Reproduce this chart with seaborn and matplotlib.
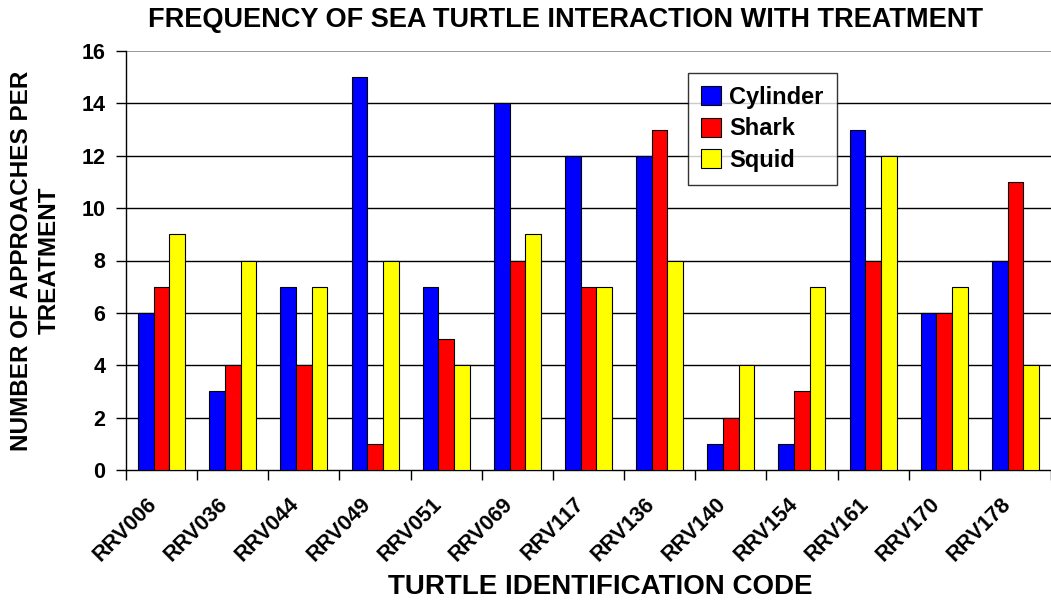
import pandas as pd
import matplotlib.pyplot as plt
import seaborn as sns
from matplotlib.ticker import FixedLocator
from matplotlib.transforms import ScaledTranslation

turtles = ["RRV006", "RRV036", "RRV044", "RRV049", "RRV051", "RRV069", "RRV117",
           "RRV136", "RRV140", "RRV154", "RRV161", "RRV170", "RRV178"]
cylinder = [6, 3, 7, 15, 7, 14, 12, 12, 1, 1, 13, 6, 8]
shark = [7, 4, 4, 1, 5, 8, 7, 13, 2, 3, 8, 6, 11]
squid = [9, 8, 7, 8, 4, 9, 7, 8, 4, 7, 12, 7, 4]
treatments = ["Cylinder", "Shark", "Squid"]

df = pd.DataFrame({
    "turtle": turtles * 3,
    "treatment": [t for t in treatments for _ in turtles],
    "count": cylinder + shark + squid,
})

sns.set_style("white")
plt.rcParams['font.family'] = ['Liberation Sans', 'DejaVu Sans']
plt.rcParams['font.weight'] = 'bold'
plt.rcParams['text.color'] = 'black'
plt.rcParams['axes.labelcolor'] = 'black'
plt.rcParams['xtick.color'] = 'black'
plt.rcParams['ytick.color'] = 'black'

fig = plt.figure(figsize=(10.51, 6.01), dpi=100)
ax = fig.add_axes([126 / 1051, 1 - 470 / 601, 925 / 1051, 419 / 601])

sns.barplot(data=df, x="turtle", y="count", hue="treatment", order=turtles,
            hue_order=treatments, palette=["#0000ff", "#ff0000", "#ffff00"],
            saturation=1, width=0.66, edgecolor="black", linewidth=0.8, ax=ax, zorder=3)

ax.set_ylim(0, 16)
ax.set_xlim(-0.5, len(turtles) - 0.5)
ax.set_yticks(range(0, 17, 2))
for y in range(2, 16, 2):
    ax.axhline(y, color="black", lw=1, zorder=1)
ax.axhline(16, color="#888888", lw=1.2, zorder=1)

ax.xaxis.set_minor_locator(FixedLocator([i - 0.5 for i in range(len(turtles) + 1)]))
ax.tick_params(axis="x", which="major", length=0, labelsize=15.5, pad=14)
ax.tick_params(axis="x", which="minor", length=7, width=1, direction="out", bottom=True)
ax.tick_params(axis="y", length=7, width=1, direction="out", left=True, labelsize=15.5, pad=8)
shift = ScaledTranslation(-0.15, -0.04, fig.dpi_scale_trans)
for lab in ax.get_xticklabels():
    lab.set_rotation(45)
    lab.set_ha("right")
    lab.set_rotation_mode("anchor")
    lab.set_fontweight("bold")
    lab.set_transform(lab.get_transform() + shift)
plt.setp(ax.get_yticklabels(), fontweight="bold")

for side in ["top", "right"]:
    ax.spines[side].set_visible(False)
for side in ["left", "bottom"]:
    ax.spines[side].set_color("black")
    ax.spines[side].set_linewidth(1)

ax.set_xlabel("TURTLE IDENTIFICATION CODE", fontsize=20, fontweight="bold")
ax.xaxis.set_label_coords((600 - 126) / 925, -104 / 419)
ax.set_ylabel("NUMBER OF APPROACHES PER\nTREATMENT", fontsize=17.5, fontweight="bold",
              linespacing=1.25)
ax.yaxis.set_label_coords(-65 / 925, 0.5)
fig.text(565 / 1051, 1 - 20 / 601, "FREQUENCY OF SEA TURTLE INTERACTION WITH TREATMENT",
         fontsize=19.5, fontweight="bold", ha="center", va="center")

leg = ax.legend(loc="upper left", bbox_to_anchor=(562 / 925, 1 - 22 / 419), fontsize=17,
                frameon=True, fancybox=False, edgecolor="black", handlelength=0.85,
                handleheight=0.85, handletextpad=0.35, borderpad=0.55, labelspacing=0.36,
                borderaxespad=0)
leg.get_frame().set_linewidth(1)
for t in leg.get_texts():
    t.set_fontweight("bold")

fig.savefig("out.png", dpi=100)
